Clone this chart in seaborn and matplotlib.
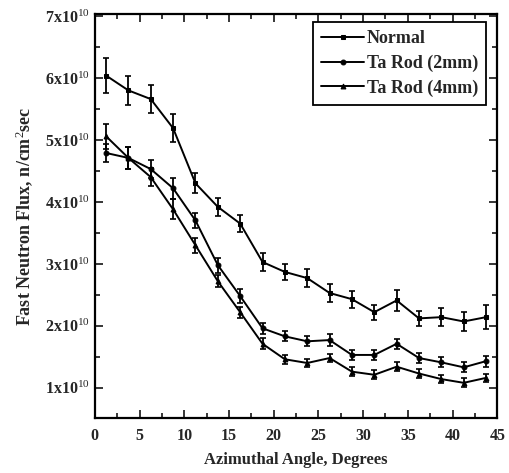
import numpy as np
import pandas as pd
import matplotlib
matplotlib.use("Agg")
import matplotlib.pyplot as plt
import seaborn as sns
from matplotlib.ticker import MultipleLocator, FixedLocator, FuncFormatter

angles = [1.25, 3.75, 6.25, 8.75, 11.25, 13.75, 16.25, 18.75, 21.25, 23.75,
          26.25, 28.75, 31.25, 33.75, 36.25, 38.75, 41.25, 43.75]

normal = [6.04, 5.80, 5.66, 5.19, 4.30, 3.92, 3.65, 3.03, 2.87, 2.77,
          2.53, 2.43, 2.22, 2.41, 2.12, 2.14, 2.07, 2.14]
normal_err = [0.29, 0.23, 0.22, 0.23, 0.16, 0.15, 0.14, 0.14, 0.13, 0.14,
              0.14, 0.14, 0.12, 0.17, 0.12, 0.14, 0.16, 0.19]

rod2 = [4.79, 4.71, 4.53, 4.22, 3.70, 2.98, 2.48, 1.96, 1.83, 1.75,
        1.77, 1.53, 1.53, 1.71, 1.48, 1.41, 1.33, 1.43]
rod2_err = [0.15, 0.18, 0.15, 0.17, 0.12, 0.12, 0.11, 0.09, 0.08, 0.08,
            0.09, 0.08, 0.08, 0.08, 0.08, 0.08, 0.08, 0.09]

rod4 = [5.06, 4.71, 4.40, 3.88, 3.30, 2.72, 2.22, 1.71, 1.46, 1.40,
        1.48, 1.26, 1.21, 1.34, 1.23, 1.14, 1.08, 1.16]
rod4_err = [0.20, 0.18, 0.15, 0.16, 0.12, 0.10, 0.09, 0.09, 0.07, 0.07,
            0.07, 0.07, 0.07, 0.07, 0.07, 0.07, 0.07, 0.07]

series_names = ["Normal", "Ta Rod (2mm)", "Ta Rod (4mm)"]
scale = 1e10

sns.set_style("ticks")
plt.rcParams["font.family"] = ["Liberation Serif", "DejaVu Serif"]
plt.rcParams["mathtext.fontset"] = "custom"
plt.rcParams["mathtext.rm"] = "Liberation Serif"
plt.rcParams["mathtext.it"] = "Liberation Serif:italic"
plt.rcParams["mathtext.bf"] = "Liberation Serif:bold"

rows = []
for name, vals in zip(series_names, [normal, rod2, rod4]):
    for a, v in zip(angles, vals):
        rows.append({"angle": a, "flux": v * scale, "series": name})
df = pd.DataFrame(rows)

fig = plt.figure(figsize=(5.10, 4.73), dpi=100)
ax = fig.add_axes([0.186, 0.116, 0.789, 0.854])

markers = {"Normal": "s", "Ta Rod (2mm)": "o", "Ta Rod (4mm)": "^"}
palette = {n: "black" for n in series_names}
sns.lineplot(data=df, x="angle", y="flux", hue="series", style="series",
             markers=markers, dashes=False, palette=palette, ax=ax,
             linewidth=1.4, markersize=3.5, markeredgecolor="black")

for vals, errs in [(normal, normal_err), (rod2, rod2_err), (rod4, rod4_err)]:
    ax.errorbar(angles, [v * scale for v in vals], yerr=[e * scale for e in errs],
                fmt="none", ecolor="black", elinewidth=1.3, capsize=2.5, capthick=1.2)

ax.set_xlim(0, 45)
ax.set_ylim(0.51 * scale, 7.03 * scale)
ax.xaxis.set_major_locator(MultipleLocator(5))
ax.xaxis.set_minor_locator(MultipleLocator(2.5))
ax.yaxis.set_major_locator(FixedLocator([i * scale for i in range(1, 8)]))
ax.yaxis.set_minor_locator(FixedLocator([(i + 0.5) * scale for i in range(0, 7)]))
ax.yaxis.set_major_formatter(FuncFormatter(lambda v, p: r"%dx10$^{10}$" % round(v / scale)))
ax.tick_params(which="both", direction="in", top=True, right=True, width=1.3)
ax.tick_params(which="major", length=6, labelsize=11.5)
ax.tick_params(axis="x", which="major", pad=7)
ax.tick_params(which="minor", length=3.5)
for lab in ax.get_xticklabels() + ax.get_yticklabels():
    lab.set_fontweight("bold")
for s in ax.spines.values():
    s.set_linewidth(1.6)
    s.set_color("black")

ax.set_xlabel("Azimuthal Angle, Degrees", fontsize=12, fontweight="bold", labelpad=6)
ax.set_ylabel(r"Fast Neutron Flux, n/cm$^2$sec", fontsize=13, fontweight="bold", labelpad=7)

leg = ax.legend(loc="upper right", frameon=True, fancybox=False,
                handlelength=2.4, handletextpad=0.15, borderpad=0.45, labelspacing=0.42,
                borderaxespad=0.0,
                bbox_to_anchor=(0.973, 0.981), prop={"weight": "bold", "size": 13})
leg.get_frame().set_edgecolor("black")
leg.get_frame().set_linewidth(1.3)
leg.get_frame().set_alpha(1)

fig.savefig("out.png", dpi=100)
